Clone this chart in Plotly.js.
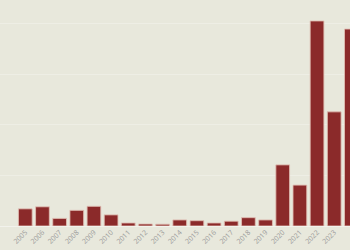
<!DOCTYPE html>
<html>
<head>
<meta charset="utf-8">
<script src="https://cdn.plot.ly/plotly-3.0.1.min.js"></script>
<style>html,body{margin:0;padding:0;background:#e8e8dc;}#chart{width:350px;height:250px;}</style>
</head>
<body>
<div id="chart"></div>
<script>
const years = ["2005","2006","2007","2008","2009","2010","2011","2012","2013","2014","2015","2016","2017","2018","2019","2020","2021","2022","2023","2024"];
const values = [34, 38, 15, 31, 39, 22, 6, 4, 3.5, 12, 10.5, 6, 9.5, 16.5, 12, 121, 81, 406, 226, 390];

const trace = {
  type: 'bar',
  x: years,
  y: values,
  marker: {color: '#8b2a2a', line: {color: 'rgba(225,190,180,0.85)', width: 1}},
  hoverinfo: 'x+y'
};

const layout = {
  width: 350, height: 250,
  margin: {l: 0, r: 0, t: 0, b: 24, pad: 0},
  paper_bgcolor: '#e8e8dc',
  plot_bgcolor: '#e8e8dc',
  bargap: 0.2,
  showlegend: false,
  xaxis: {
    type: 'category',
    range: [-1.474, 18.92],
    tickangle: -45,
    tickfont: {family: 'Open Sans, sans-serif', size: 7, color: '#9a9a9a'},
    showgrid: false, zeroline: false, showline: false, ticks: '',
    automargin: false
  },
  yaxis: {
    range: [0, 447.5],
    dtick: 100,
    showticklabels: false,
    gridcolor: 'rgba(255,255,255,0.25)',
    gridwidth: 1,
    zeroline: true,
    zerolinecolor: 'rgba(255,255,255,0.45)',
    showline: false, ticks: '',
    automargin: false
  }
};

Plotly.newPlot('chart', [trace], layout, {displayModeBar: false, staticPlot: true});
</script>
</body>
</html>
